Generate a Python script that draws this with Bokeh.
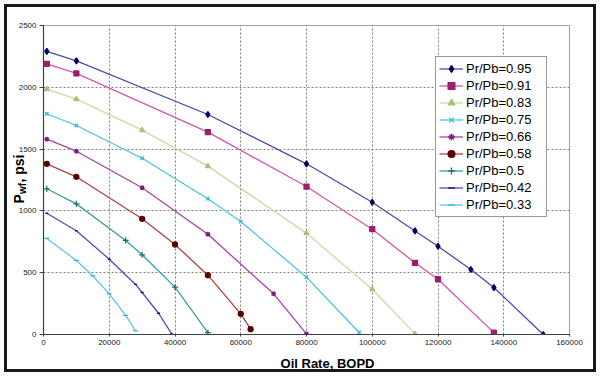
import math
from bokeh.plotting import figure
from bokeh.models import Range1d, Label, Legend, LegendItem, FixedTicker
from bokeh.embed import file_html
from bokeh.resources import INLINE

# ---------------- data ----------------
series_labels = ["Pr/Pb=0.95", "Pr/Pb=0.91", "Pr/Pb=0.83", "Pr/Pb=0.75", "Pr/Pb=0.66",
                 "Pr/Pb=0.58", "Pr/Pb=0.5", "Pr/Pb=0.42", "Pr/Pb=0.33"]

q_095 = [1000, 10000, 50000, 80000, 100000, 113000, 120000, 130000, 137000, 152000]
p_095 = [2290, 2214, 1780, 1381, 1070, 838, 714, 526, 380, 0]

q_091 = [1000, 10000, 50000, 80000, 100000, 113000, 120000, 137000]
p_091 = [2190, 2112, 1637, 1197, 852, 580, 447, 15]

q_083 = [1000, 10000, 30000, 50000, 80000, 100000, 113000]
p_083 = [1985, 1904, 1653, 1362, 820, 366, 5]

q_075 = [1000, 10000, 30000, 50000, 60000, 80000, 96000]
p_075 = [1786, 1691, 1426, 1098, 914, 464, 16]

q_066 = [1000, 10000, 30000, 50000, 70000, 80000]
p_066 = [1580, 1483, 1187, 811, 329, 5]

q_058 = [1000, 10000, 30000, 40000, 50000, 60000, 63000]
p_058 = [1381, 1276, 936, 728, 480, 167, 43]

q_050 = [1000, 10000, 25000, 30000, 40000, 50000]
p_050 = [1179, 1057, 761, 645, 383, 15]

q_042 = [1000, 10000, 20000, 28000, 30000, 35000, 39000]
p_042 = [981, 839, 609, 405, 340, 172, 5]

q_033 = [1000, 10000, 15000, 20000, 25000, 28000]
p_033 = [777, 599, 475, 329, 154, 30]

x_ticks = [0, 20000, 40000, 60000, 80000, 100000, 120000, 140000, 160000]
x_tick_labels = ["0", "20000", "40000", "60000", "80000", "100000", "120000", "140000", "160000"]
y_ticks = [0, 500, 1000, 1500, 2000, 2500]
y_tick_labels = ["0", "500", "1000", "1500", "2000", "2500"]

x_title = "Oil Rate, BOPD"
y_title_parts = ["P", "wf", ", psi"]

# ---------------- styles ----------------
line_colors = ["#4B4BA8", "#D656A8", "#CCDAA4", "#4CC4E2", "#A445A6",
               "#A84444", "#3A9E9E", "#4E4EB2", "#5CC6F2"]
marker_colors = ["#000060", "#9C1F6C", "#A6C478", "#3AB6DC", "#7A1F7C",
                 "#5A0000", "#1E6E6E", "#14146E", "#33B0E8"]
markers = ["diamond", "square", "triangle", "x", "asterisk", "circle", "cross", "dash", "dash"]
marker_sizes = [6, 5, 5, 5, 5, 5, 6, 3, 5]

qs = [q_095, q_091, q_083, q_075, q_066, q_058, q_050, q_042, q_033]
ps = [p_095, p_091, p_083, p_075, p_066, p_058, p_050, p_042, p_033]

W, H = 600, 376
BL, BR, BT, BB = 43, 31, 25, 42
XMAX, YMAX = 160000, 2500

p = figure(width=W, height=H, output_backend="svg", toolbar_location=None,
           x_range=Range1d(0, XMAX), y_range=Range1d(0, YMAX),
           min_border_left=BL, min_border_right=BR, min_border_top=BT, min_border_bottom=BB)
# transparent fills so the page (white) and the CSS frame show through
p.background_fill_color = None
p.border_fill_color = None
p.outline_line_color = "#A0A0A0"
p.outline_line_width = 1
# outer chart frame drawn as a CSS outline (does not affect layout)
p.styles = {"outline": "3px solid #1A1A1A", "outline-offset": "-7px", "background-color": "white"}

fw = W - BL - BR
fh = H - BT - BB


def dx(px):
    return (px - BL) * XMAX / fw


def dy(py):
    return (H - BB - py) * YMAX / fh


# axes
p.xaxis.ticker = FixedTicker(ticks=x_ticks)
p.yaxis.ticker = FixedTicker(ticks=y_ticks)
p.xaxis.major_label_overrides = {t: l for t, l in zip(x_ticks, x_tick_labels)}
p.yaxis.major_label_overrides = {t: l for t, l in zip(y_ticks, y_tick_labels)}
for ax in (p.xaxis, p.yaxis):
    ax.major_label_text_font = "Liberation Sans"
    ax.major_label_text_font_size = "8px"
    ax.major_label_text_color = "#222222"
    ax.axis_line_color = "#404040"
    ax.axis_line_width = 1.2
    ax.major_tick_line_color = "#404040"
    ax.major_tick_in = 0
    ax.major_tick_out = 4
    ax.minor_tick_line_color = None
    ax.major_label_standoff = 3
p.xaxis.major_tick_out = 2

p.grid.grid_line_color = "#808080"
p.grid.grid_line_dash = "2 2"
p.grid.grid_line_width = 1

items = []
for i in range(9):
    lr = p.line(qs[i], ps[i], line_color=line_colors[i], line_width=1.3)
    sr = p.scatter(qs[i], ps[i], marker=markers[i], size=marker_sizes[i],
                   fill_color=marker_colors[i], line_color=marker_colors[i], line_width=1.3)
    items.append(LegendItem(label=series_labels[i], renderers=[lr, sr]))

legend = Legend(items=items, location=(392, 117))
legend.label_text_font = "Liberation Sans"
legend.label_text_font_size = "13px"
legend.label_text_color = "#000000"
legend.label_height = 17
legend.glyph_height = 17
legend.glyph_width = 24
legend.label_width = 77
legend.label_standoff = 3
legend.spacing = 0
legend.padding = 3
legend.margin = 0
legend.border_line_color = "#333333"
legend.border_line_width = 1
legend.background_fill_color = "white"
legend.background_fill_alpha = 1
p.add_layout(legend)

# titles: data units, placed in side panels (with spare room) so they are not clipped
p.add_layout(Label(x=dx(327), y=dy(362.5), text=x_title,
                   text_align="center", text_baseline="alphabetic", text_font="Liberation Sans",
                   text_font_size="13px", text_font_style="bold", text_color="#000000"), "below")
ang = math.pi / 2
p.add_layout(Label(x=dx(18.5), y=dy(203), text=y_title_parts[0],
                   angle=ang, text_align="left", text_baseline="alphabetic",
                   text_font="Liberation Sans", text_font_size="14px", text_font_style="bold",
                   text_color="#000000"), "above")
p.add_layout(Label(x=dx(21.5), y=dy(193.5), text=y_title_parts[1],
                   angle=ang, text_align="left", text_baseline="alphabetic",
                   text_font="Liberation Sans", text_font_size="10px", text_font_style="bold",
                   text_color="#000000"), "right")
p.add_layout(Label(x=dx(18.5), y=dy(182), text=y_title_parts[2],
                   angle=ang, text_align="left", text_baseline="alphabetic",
                   text_font="Liberation Sans", text_font_size="14px", text_font_style="bold",
                   text_color="#000000"), "right")

open("out.html", "w").write(file_html(p, INLINE))
